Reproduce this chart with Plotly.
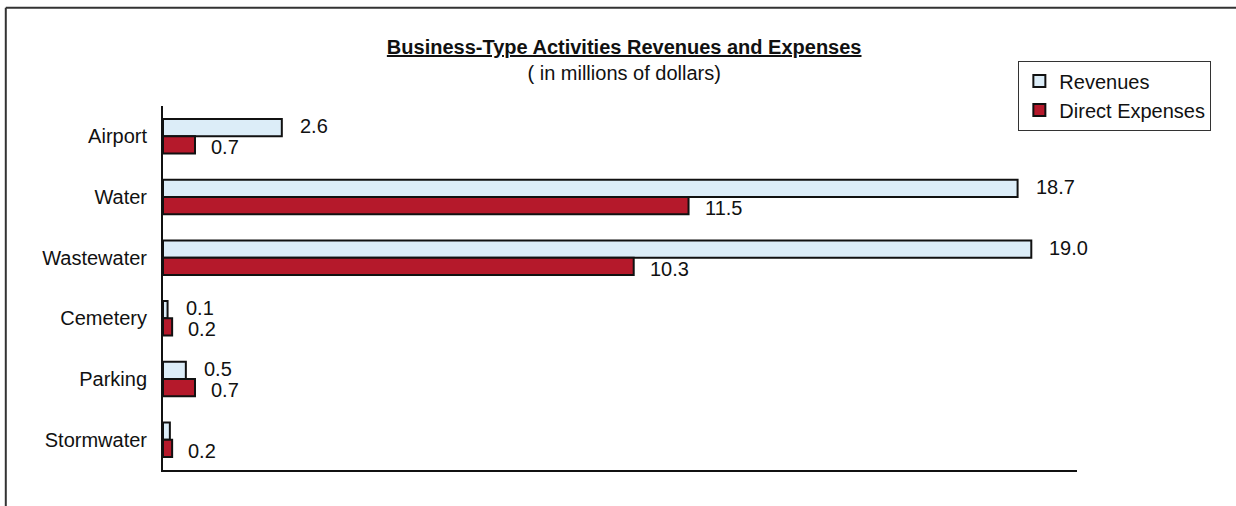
import plotly.graph_objects as go

# Business-type activities, in millions of dollars
categories = ["Airport", "Water", "Wastewater", "Cemetery", "Parking", "Stormwater"]
revenues = [2.6, 18.7, 19.0, 0.1, 0.5, 0.15]
direct_expenses = [0.7, 11.5, 10.3, 0.2, 0.7, 0.2]
revenue_labels = ["2.6", "18.7", "19.0", "0.1", "0.5", None]
expense_labels = ["0.7", "11.5", "10.3", "0.2", "0.7", "0.2"]

FONT = "Liberation Sans, Arial, sans-serif"
INK = "#111111"
REV_FILL = "#dcedf8"
EXP_FILL = "#b5192b"

fig = go.Figure()
fig.add_trace(go.Bar(
    y=categories, x=revenues, orientation="h", name="Revenues",
    marker=dict(color=REV_FILL, line=dict(color=INK, width=2)),
))
fig.add_trace(go.Bar(
    y=categories, x=direct_expenses, orientation="h", name="Direct Expenses",
    marker=dict(color=EXP_FILL, line=dict(color=INK, width=2)),
))

# value labels to the right of each bar
annotations = []
for cat, val, lab in zip(categories, revenues, revenue_labels):
    if lab:
        annotations.append(dict(x=val, y=cat, text=lab, xref="x", yref="y",
                                showarrow=False, xanchor="left", yanchor="middle",
                                xshift=16, yshift=10))
for cat, val, lab in zip(categories, direct_expenses, expense_labels):
    if lab:
        annotations.append(dict(x=val, y=cat, text=lab, xref="x", yref="y",
                                showarrow=False, xanchor="left", yanchor="middle",
                                xshift=14, yshift=-11))

fig.update_layout(
    width=1236, height=506,
    margin=dict(l=163, r=159, t=106, b=36),
    paper_bgcolor="white", plot_bgcolor="white",
    font=dict(family=FONT, size=20, color=INK),
    barmode="group", bargap=0.43, bargroupgap=0.0,
    title=dict(
        text="<b><u>Business-Type Activities Revenues and Expenses</u></b><br>( in millions of dollars)",
        x=0.505, xref="container", xanchor="center",
        y=1 - 54 / 506, yref="container", yanchor="top",
        font=dict(family=FONT, size=20, color=INK),
    ),
    legend=dict(
        x=1.147, y=1.125, xref="paper", yref="paper", xanchor="right", yanchor="top",
        bordercolor="#333333", borderwidth=1, bgcolor="white",
        font=dict(family=FONT, size=20, color=INK),
        itemwidth=30, tracegroupgap=4,
    ),
    xaxis=dict(range=[0, 20], showticklabels=False, showgrid=False, zeroline=False,
               showline=True, linecolor=INK, linewidth=2, ticks=""),
    yaxis=dict(autorange="reversed", showgrid=False, zeroline=False,
               showline=True, linecolor=INK, linewidth=2, ticks="",
               ticklabelstandoff=10),
    annotations=annotations,
    showlegend=True,
)

# outer frame edges
fig.add_shape(type="line", xref="paper", yref="paper",
              x0=-0.172, x1=1.2, y0=1.27, y1=1.27,
              line=dict(color="#333333", width=2))
fig.add_shape(type="line", xref="paper", yref="paper",
              x0=-0.172, x1=-0.172, y0=1.27, y1=-0.2,
              line=dict(color="#333333", width=2))

fig.write_html("out.html")
